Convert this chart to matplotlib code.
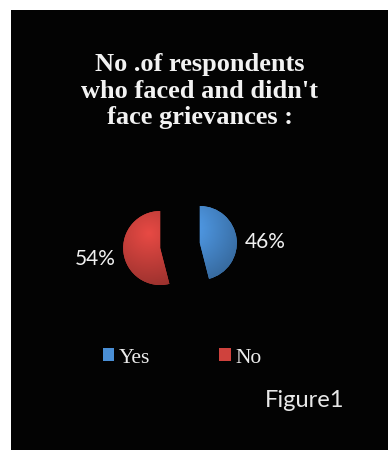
import numpy as np
import matplotlib
matplotlib.use('Agg')
import matplotlib.pyplot as plt
from matplotlib.colors import to_rgb

labels = ['Yes', 'No']
values = [46, 54]
colors = ['#4a8fd6', '#cf423d']
title = "No .of respondents\nwho faced and didn't\nface grievances :"
caption = 'Figure1'

W, H = 388, 450
fig = plt.figure(figsize=(W / 100, H / 100), dpi=100)
fig.patch.set_facecolor('white')

# black slide area
bg = fig.add_axes([11 / W, 0, 1 - 11 / W, 1 - 10 / H])
bg.set_facecolor('#030303')
bg.set_xticks([])
bg.set_yticks([])
for s in bg.spines.values():
    s.set_visible(False)

# pie axes: 200x200 px box around the pie centre, radius 1 == 37 px
cx, cy, box, rpx = 180, 245.5, 200, 37
ax = fig.add_axes([(cx - box / 2) / W, 1 - (cy + box / 2) / H, box / W, box / H])
ax.set_facecolor('none')
wedges, texts = ax.pie(values, colors=colors, startangle=90, counterclock=False,
                       explode=[0.54, 0.54], radius=1,
                       labels=['%d%%' % v for v in values], labeldistance=1.78,
                       textprops=dict(color='#f0f0f0', fontsize=15, family='Lato',
                                      ha='center', va='center'))
# percentage labels sit a little below the slice bisector
for t, dy in zip(texts, [-0.2, -0.08]):
    x, y = t.get_position()
    t.set_position((x, y + dy))
lim = box / 2 / rpx
ax.set_axis_off()

# soft shading on each slice
n = 200
g = np.linspace(-1, 1, n)
gx, gy = np.meshgrid(g, g)
for w, c in zip(wedges, colors):
    x0, y0 = w.center
    r = w.r
    d = np.sqrt((gx + 0.3) ** 2 + (gy - 0.4) ** 2)
    shade = 1.12 - 0.25 * d
    img = np.clip(np.array(to_rgb(c))[None, None, :] * shade[..., None], 0, 1)
    im = ax.imshow(img, extent=[x0 - r, x0 + r, y0 - r, y0 + r], origin='lower',
                   zorder=w.get_zorder() + 0.1, interpolation='bilinear')
    im.set_clip_path(w)
ax.set_xlim(-lim, lim)
ax.set_ylim(-lim, lim)

fig.text(200 / W, 1 - 53 / H, title, ha='center', va='top', color='#f2f2f2',
         fontsize=19, fontweight='bold', family='Liberation Serif', linespacing=1.2)

leg = fig.legend(wedges, labels, loc='center', bbox_to_anchor=(182 / W, 1 - 358 / H),
                 ncol=2, frameon=False, handlelength=0.55, handleheight=0.55,
                 handletextpad=0.2, columnspacing=3.2,
                 prop=dict(family='Liberation Serif', size=15.5))
for t in leg.get_texts():
    t.set_color('#ececec')

fig.text(265 / W, 1 - 407 / H, caption, ha='left', va='baseline', color='#e8e8e8',
         fontsize=17, family='Lato')

fig.savefig('out.png', dpi=100, facecolor=fig.get_facecolor())
